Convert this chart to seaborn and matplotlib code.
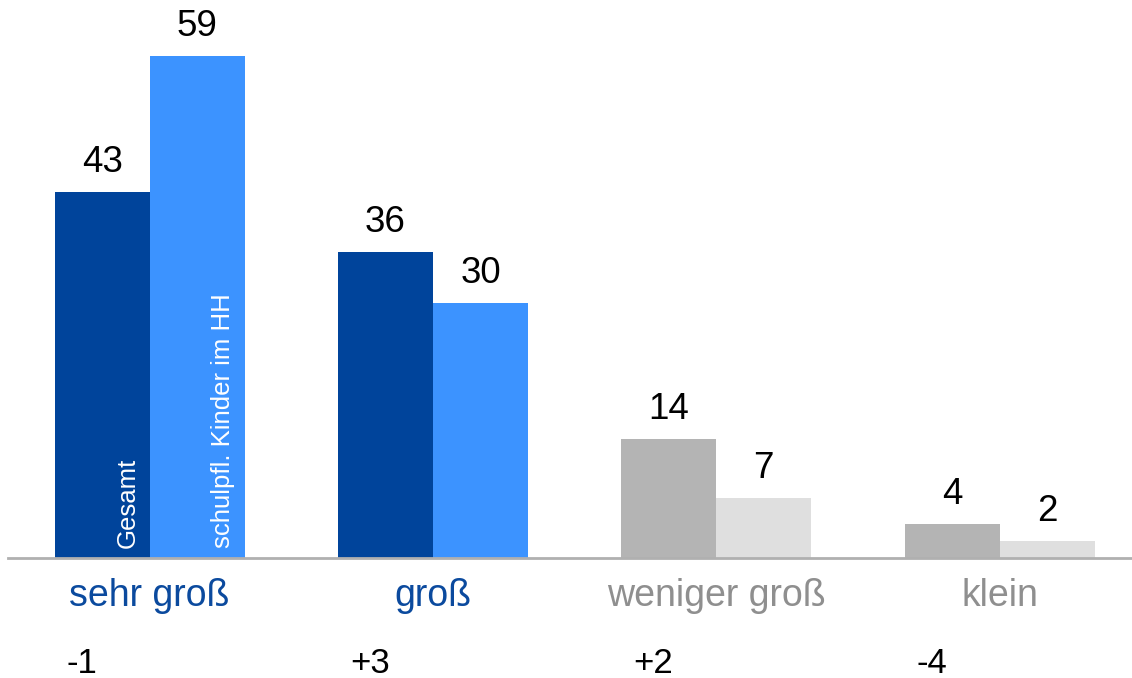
import matplotlib
matplotlib.use("Agg")
import matplotlib.pyplot as plt
import seaborn as sns
import pandas as pd

# Data
categories = ["sehr groß", "groß", "weniger groß", "klein"]
gesamt = [43, 36, 14, 4]
kinder = [59, 30, 7, 2]
changes = ["-1", "+3", "+2", "-4"]
series_names = ["Gesamt", "schulpfl. Kinder im HH"]

# Styling
dark_colors = ["#00449B", "#00449B", "#B4B4B4", "#B4B4B4"]
light_colors = ["#3C93FF", "#3C93FF", "#DFDFDF", "#DFDFDF"]
label_colors = ["#0B4A9E", "#0B4A9E", "#8F8F8F", "#8F8F8F"]

sns.set_theme(style="white")
plt.rcParams["font.family"] = ["Liberation Sans", "DejaVu Sans"]

df = pd.DataFrame({
    "Kategorie": categories * 2,
    "Wert": gesamt + kinder,
    "Gruppe": [series_names[0]] * 4 + [series_names[1]] * 4,
})

W, H = 1132, 678
fig = plt.figure(figsize=(W / 100, H / 100), dpi=100)
ax = fig.add_axes([8 / W, (H - 558) / H, 1 - 8 / W, 558 / H])

sns.barplot(data=df, x="Kategorie", y="Wert", hue="Gruppe", order=categories,
            hue_order=series_names, palette=["#00449B", "#3C93FF"],
            width=0.67, saturation=1, legend=False, ax=ax)

ax.set_xlim(-0.5, 3.467)
ax.set_ylim(0, 65.58)

# recolour bars per category and write values above them
for cont, cols in zip(ax.containers, [dark_colors, light_colors]):
    for bar, col in zip(cont, cols):
        bar.set_facecolor(col)
        bar.set_edgecolor("none")
        h = bar.get_height()
        ax.annotate(f"{h:g}", (bar.get_x() + bar.get_width() / 2, h),
                    xytext=(0, 14.4), textcoords="offset points",
                    ha="center", va="baseline", fontsize=26.5, color="black")

# series names written vertically inside the first pair of bars
for cont, name in zip(ax.containers, series_names):
    bar = cont[0]
    ax.annotate(name, (bar.get_x() + bar.get_width(), 0),
                xytext=(-10.8, 7.2), textcoords="offset points",
                rotation=90, rotation_mode="anchor", ha="left", va="baseline",
                fontsize=18.5, color="white")

# category names and changes below the axis
for i, (cat, chg, col) in enumerate(zip(categories, changes, label_colors)):
    ax.annotate(cat, (i, 0), xytext=(0, -34.6), textcoords="offset points",
                ha="center", va="baseline", fontsize=27, color=col,
                annotation_clip=False)
    ax.annotate(chg, (i - 0.293, 0), xytext=(0, -82.8), textcoords="offset points",
                ha="left", va="baseline", fontsize=25, color="black",
                annotation_clip=False)

sns.despine(ax=ax, left=True, top=True, right=True)
ax.spines["bottom"].set_color("#B0B0B0")
ax.spines["bottom"].set_linewidth(2)
ax.set_xticks([])
ax.set_yticks([])
ax.set_xlabel("")
ax.set_ylabel("")
ax.patch.set_alpha(0)

fig.savefig("out.png", dpi=100)
